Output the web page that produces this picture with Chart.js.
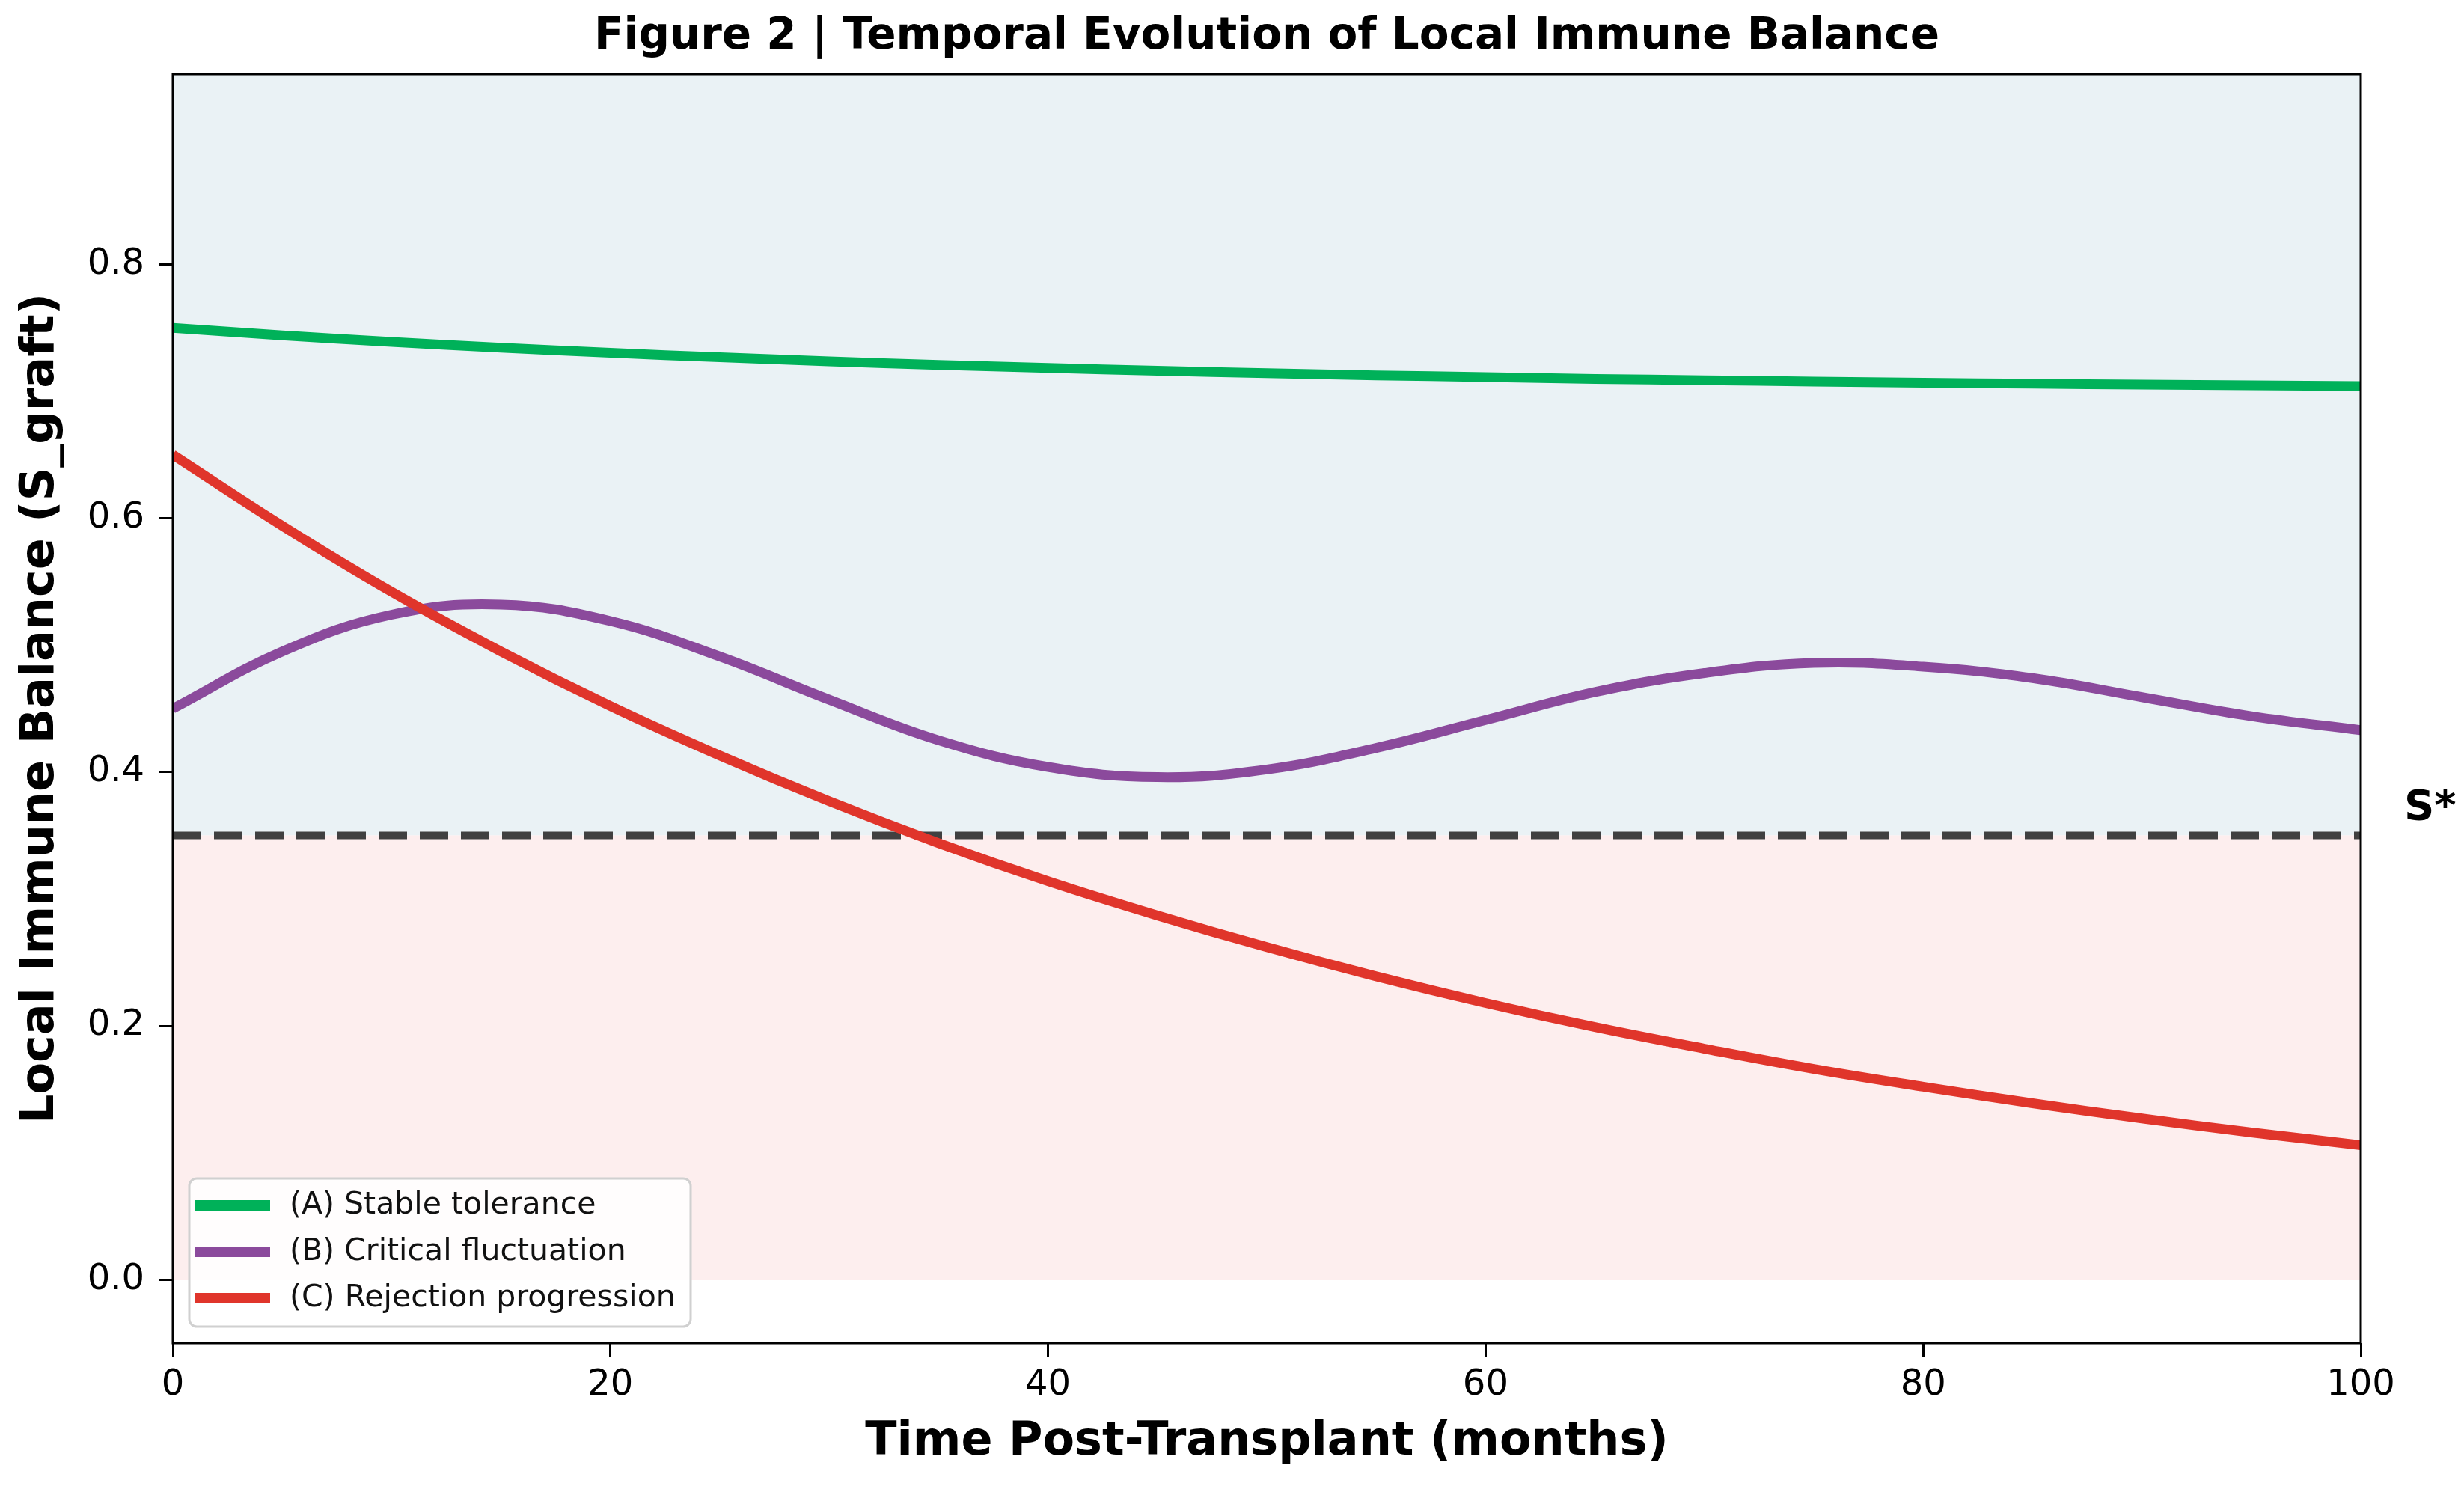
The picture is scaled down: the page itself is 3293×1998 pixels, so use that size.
<!DOCTYPE html>
<html>
<head>
<meta charset="utf-8">
<title>Figure 2 | Temporal Evolution of Local Immune Balance</title>
<script src="https://cdn.jsdelivr.net/npm/chart.js@4.4.1/dist/chart.umd.min.js"></script>
<style>
    html, body { margin: 0; padding: 0; background: #ffffff; }
    canvas { display: block; }
</style>
</head>
<body>
<canvas id="immuneChart" width="3293" height="1998"></canvas>
<script>
// months after transplant (sampled every 5 months)
const months = [0, 5, 10, 15, 20, 25, 30, 35, 40, 45, 50, 55, 60, 65, 70, 75, 80, 85, 90, 95, 100];

// S_graft values
const stableTolerance = [0.7500, 0.7441, 0.7389, 0.7344, 0.7303, 0.7268, 0.7236, 0.7208, 0.7184, 0.7162, 0.7143,
    0.7126, 0.7112, 0.7098, 0.7087, 0.7077, 0.7068, 0.7060, 0.7053, 0.7047, 0.7041];
const criticalFluctuation = [0.450, 0.495, 0.524, 0.532, 0.519, 0.491, 0.457, 0.425, 0.404, 0.396, 0.402,
    0.419, 0.441, 0.463, 0.478, 0.486, 0.483, 0.474, 0.459, 0.444, 0.433];
const rejectionProgression = [0.650, 0.594, 0.542, 0.495, 0.452, 0.413, 0.377, 0.344, 0.314, 0.287, 0.262,
    0.239, 0.218, 0.199, 0.182, 0.166, 0.152, 0.139, 0.127, 0.116, 0.106];

const seriesLabels = ['(A) Stable tolerance', '(B) Critical fluctuation', '(C) Rejection progression'];
const seriesColors = ['#00b159', '#8b4a9c', '#e0352b'];

const threshold = 0.35;
const thresholdLabel = 'S*';

const xTickValues = [0, 20, 40, 60, 80, 100];
const yTickValues = [0.0, 0.2, 0.4, 0.6, 0.8];
const yTickLabels = ['0.0', '0.2', '0.4', '0.6', '0.8'];

const FONT = "'DejaVu Sans', 'Liberation Sans', sans-serif";

function toPoints(values) {
    return months.map((m, i) => ({ x: m, y: values[i] }));
}

function flatLine(value) {
    return [{ x: months[0], y: value }, { x: months[months.length - 1], y: value }];
}

// title, frame, S* label and a matplotlib-like legend
const figurePlugin = {
    id: 'figureDecor',
    afterDatasetsDraw(chart) {
        const { ctx, chartArea } = chart;
        ctx.save();
        ctx.strokeStyle = '#000000';
        ctx.lineWidth = 3;
        ctx.strokeRect(chartArea.left, chartArea.top, chartArea.right - chartArea.left, chartArea.bottom - chartArea.top);
        ctx.restore();
    },
    afterDraw(chart) {
        const { ctx, chartArea, scales } = chart;
        ctx.save();

        // title
        ctx.fillStyle = '#000000';
        ctx.font = 'bold 58px ' + FONT;
        ctx.textAlign = 'center';
        ctx.textBaseline = 'middle';
        ctx.fillText('Figure 2 | Temporal Evolution of Local Immune Balance', (chartArea.left + chartArea.right) / 2, 50);

        // threshold label
        const ty = scales.y.getPixelForValue(threshold);
        ctx.font = 'bold 56px ' + FONT;
        ctx.textAlign = 'left';
        ctx.fillText(thresholdLabel, chartArea.right + 58, ty - 36);

        // legend
        const boxX = chartArea.left + 22;
        const boxW = 670;
        const rowH = 62;
        const boxH = 198;
        const boxY = chartArea.bottom - 22 - boxH;
        ctx.beginPath();
        ctx.roundRect(boxX, boxY, boxW, boxH, 10);
        ctx.fillStyle = 'rgba(255,255,255,0.85)';
        ctx.fill();
        ctx.strokeStyle = '#d0d0d0';
        ctx.lineWidth = 3;
        ctx.stroke();

        ctx.font = '41px ' + FONT;
        ctx.textBaseline = 'middle';
        seriesLabels.forEach((label, i) => {
            const cy = boxY + 36 + i * rowH;
            ctx.strokeStyle = seriesColors[i];
            ctx.lineWidth = 14;
            ctx.lineCap = 'butt';
            ctx.beginPath();
            ctx.moveTo(boxX + 8, cy);
            ctx.lineTo(boxX + 108, cy);
            ctx.stroke();
            ctx.fillStyle = '#111111';
            ctx.fillText(label, boxX + 134, cy);
        });

        ctx.restore();
    }
};

const ctx = document.getElementById('immuneChart').getContext('2d');

const curveDatasets = [stableTolerance, criticalFluctuation, rejectionProgression].map((values, i) => ({
    label: seriesLabels[i],
    data: toPoints(values),
    borderColor: seriesColors[i],
    borderWidth: 13,
    pointRadius: 0,
    tension: 0.4,
    fill: false,
    clip: 0,
    order: 3 - i
}));

new Chart(ctx, {
    type: 'line',
    data: {
        datasets: [
            ...curveDatasets,
            {
                label: 'threshold',
                data: flatLine(threshold),
                borderColor: '#404040',
                borderWidth: 10,
                borderDash: [38, 17],
                pointRadius: 0,
                fill: false,
                clip: 0,
                order: 4
            },
            {
                label: 'tolerance zone',
                data: flatLine(1.0),
                borderWidth: 0,
                pointRadius: 0,
                backgroundColor: '#eaf2f5',
                fill: { value: threshold },
                order: 6
            },
            {
                label: 'rejection zone',
                data: flatLine(threshold),
                borderWidth: 0,
                pointRadius: 0,
                backgroundColor: '#fdeeee',
                fill: { value: 0 },
                order: 5
            }
        ]
    },
    options: {
        responsive: false,
        animation: false,
        devicePixelRatio: 1,
        layout: { padding: { top: 99, right: 138, left: 0, bottom: 0 } },
        plugins: {
            legend: { display: false },
            title: { display: false },
            tooltip: { enabled: false },
            filler: { drawTime: 'beforeDatasetsDraw' }
        },
        scales: {
            x: {
                type: 'linear',
                min: 0,
                max: 100,
                afterFit(scale) { scale.height = 203; },
                afterBuildTicks(scale) { scale.ticks = xTickValues.map(v => ({ value: v })); },
                grid: { drawOnChartArea: false, drawTicks: true, tickLength: 18, tickWidth: 3, tickColor: '#000000' },
                border: { display: false },
                ticks: {
                    padding: 10,
                    maxRotation: 0,
                    color: '#000000',
                    font: { family: FONT, size: 48 }
                },
                title: {
                    display: true,
                    text: 'Time Post-Transplant (months)',
                    color: '#000000',
                    font: { family: FONT, size: 62, weight: 'bold' },
                    padding: { top: 0, bottom: 33 }
                }
            },
            y: {
                type: 'linear',
                min: -0.05,
                max: 0.95,
                afterFit(scale) { scale.width = 231; },
                afterBuildTicks(scale) { scale.ticks = yTickValues.map(v => ({ value: v })); },
                grid: { drawOnChartArea: false, drawTicks: true, tickLength: 18, tickWidth: 3, tickColor: '#000000' },
                border: { display: false },
                ticks: {
                    padding: 20,
                    color: '#000000',
                    font: { family: FONT, size: 48 },
                    callback: (value) => {
                        const idx = yTickValues.findIndex(v => Math.abs(v - value) < 1e-9);
                        return idx >= 0 ? yTickLabels[idx] : '';
                    }
                },
                title: {
                    display: true,
                    text: 'Local Immune Balance (S_graft)',
                    color: '#000000',
                    font: { family: FONT, size: 62, weight: 'bold' },
                    padding: { top: 18, bottom: 0 }
                }
            }
        }
    },
    plugins: [figurePlugin]
});
</script>
</body>
</html>
